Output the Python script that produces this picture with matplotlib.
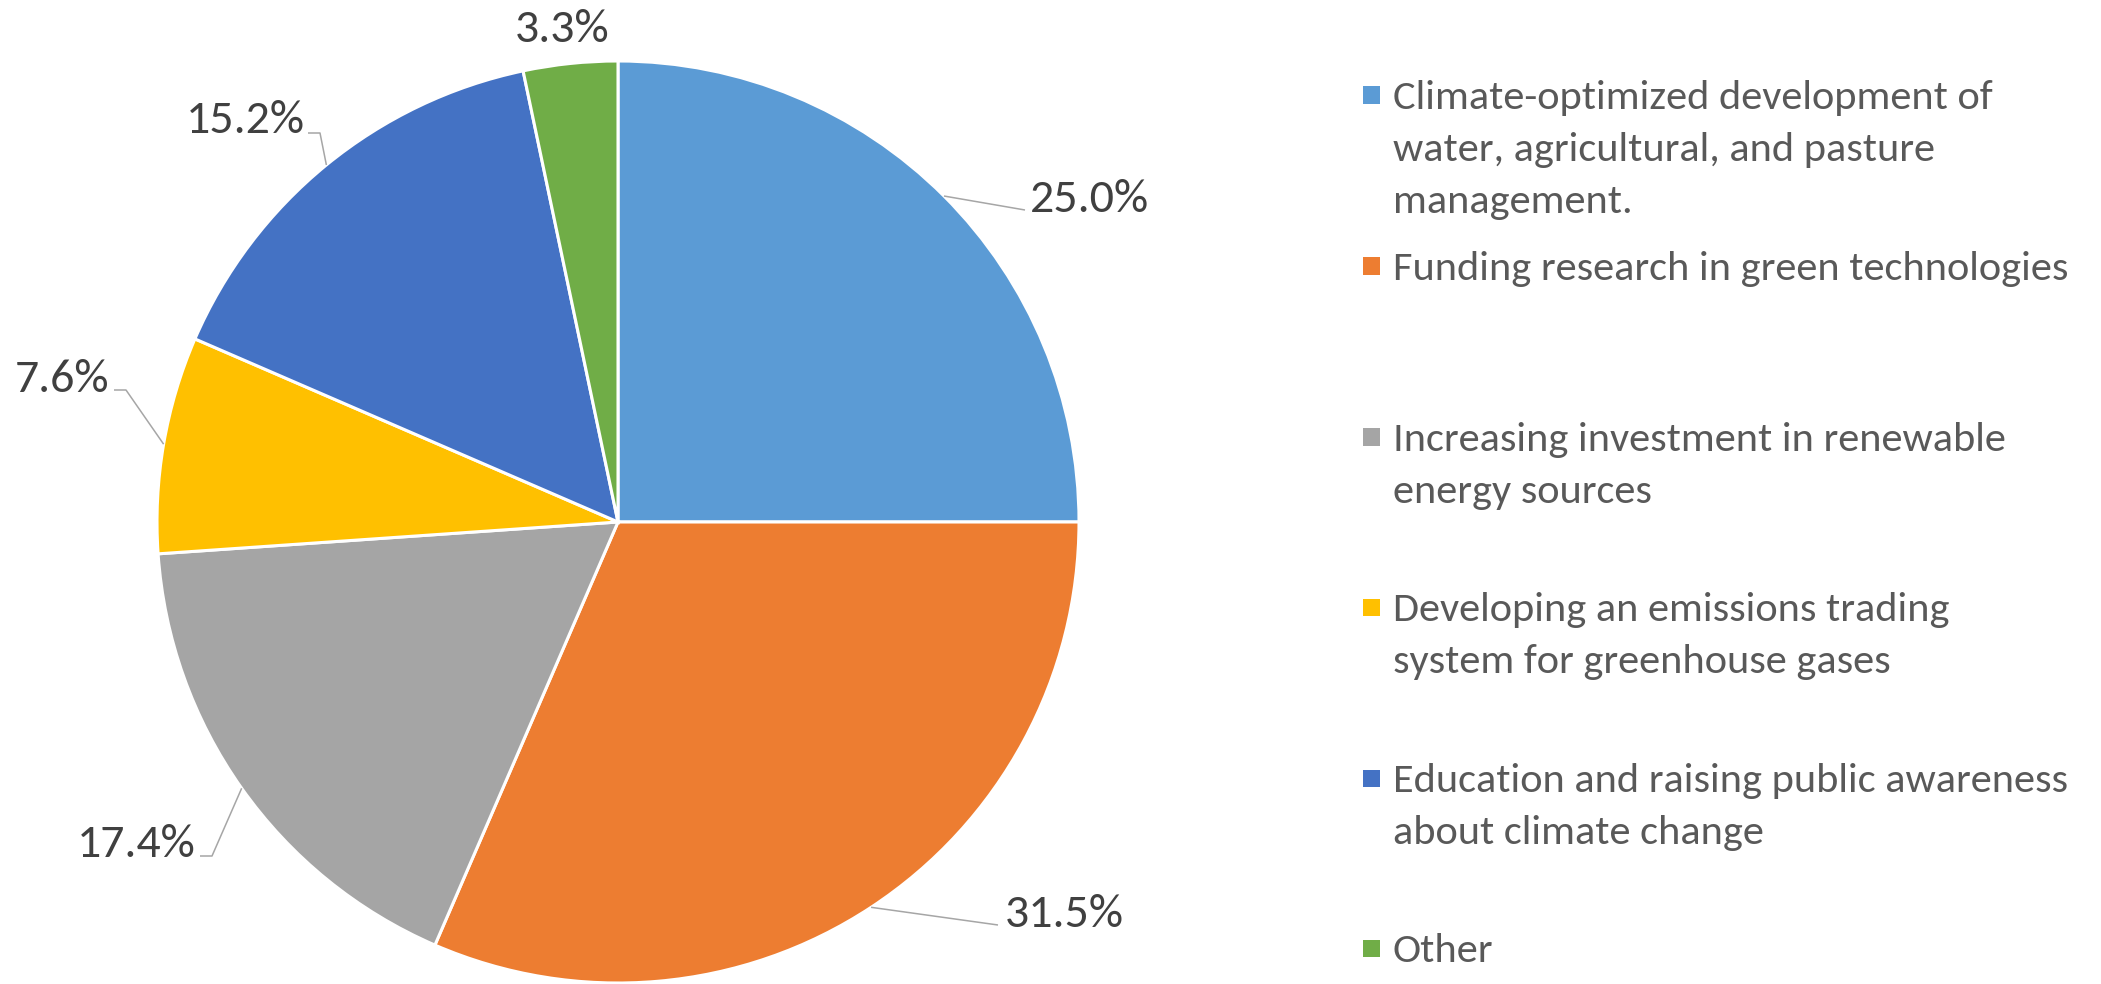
import numpy as np
import matplotlib
matplotlib.use("Agg")
import matplotlib.pyplot as plt
from matplotlib import font_manager
from matplotlib.patches import Rectangle

# ---------------- data ----------------
categories = [
    "Climate-optimized development of water, agricultural, and pasture management.",
    "Funding research in green technologies",
    "Increasing investment in renewable energy sources",
    "Developing an emissions trading system for greenhouse gases",
    "Education and raising public awareness about climate change",
    "Other",
]
legend_lines = [
    ["Climate-optimized development of", "water, agricultural, and pasture", "management."],
    ["Funding research in green technologies"],
    ["Increasing investment in renewable", "energy sources"],
    ["Developing an emissions trading", "system for greenhouse gases"],
    ["Education and raising public awareness", "about climate change"],
    ["Other"],
]
values = [25.0, 31.5, 17.4, 7.6, 15.2, 3.3]
colors = ["#5B9BD5", "#ED7D31", "#A5A5A5", "#FFC000", "#4472C4", "#70AD47"]

# ---------------- layout (pixels of the 2101x984 canvas) ----------------
W, H = 2101, 984
CX, CY, R = 618, 522, 461
# label anchor (center x, baseline y)
label_pos = [(1089, 212), (1064, 927), (136, 857), (62, 392), (245, 133), (562, 42)]
# leader polyline points after the wedge-edge start point
leaders = [[(1025, 210)], [(998, 925)], [(212, 856), (200, 856)],
           [(126, 390), (114, 390)], [(320, 133), (308, 133)], []]
legend_base = [109, 280, 451, 621, 792, 962]
line_step = 52

avail = {f.name for f in font_manager.fontManager.ttflist}
family = "DejaVu Sans"
for cand in ["Carlito", "Calibri", "Lato", "Open Sans"]:
    if cand in avail:
        family = cand
        break
plt.rcParams["font.family"] = family

fig = plt.figure(figsize=(W / 100, H / 100), dpi=100)
fig.patch.set_facecolor("white")
ax = fig.add_axes([(CX - R) / W, (H - CY - R) / H, 2 * R / W, 2 * R / H])
wedges, _ = ax.pie(values, colors=colors, startangle=90, counterclock=False,
                   radius=1, wedgeprops=dict(edgecolor="white", linewidth=2.2))
ax.set_xlim(-1, 1)
ax.set_ylim(-1, 1)
ax.set_aspect("equal")
ax.axis("off")


def px2d(p):
    return ((p[0] - CX) / R, (CY - p[1]) / R)


for w, v, lp, ld in zip(wedges, values, label_pos, leaders):
    x, y = px2d(lp)
    ax.text(x, y, f"{v:.1f}%", ha="center", va="baseline", fontsize=34.5,
            color="#404040", clip_on=False)
    if ld:
        mid = np.deg2rad((w.theta1 + w.theta2) / 2)
        pts = [(np.cos(mid), np.sin(mid))] + [px2d(p) for p in ld]
        xs, ys = zip(*pts)
        ax.plot(xs, ys, color="#A6A6A6", lw=1.1, clip_on=False, solid_capstyle="butt")

# legend
sq = 17
for lines, c, base in zip(legend_lines, colors, legend_base):
    yc = base - 14
    fig.patches.append(Rectangle(((1371 - sq / 2) / W, (H - yc - sq / 2) / H), sq / W, sq / H,
                                 transform=fig.transFigure, facecolor=c, edgecolor="none"))
    for i, t in enumerate(lines):
        fig.text(1393 / W, (H - (base + i * line_step)) / H, t, ha="left", va="baseline",
                 fontsize=30.5, color="#595959")

fig.savefig("out.png", dpi=100, facecolor="white")
